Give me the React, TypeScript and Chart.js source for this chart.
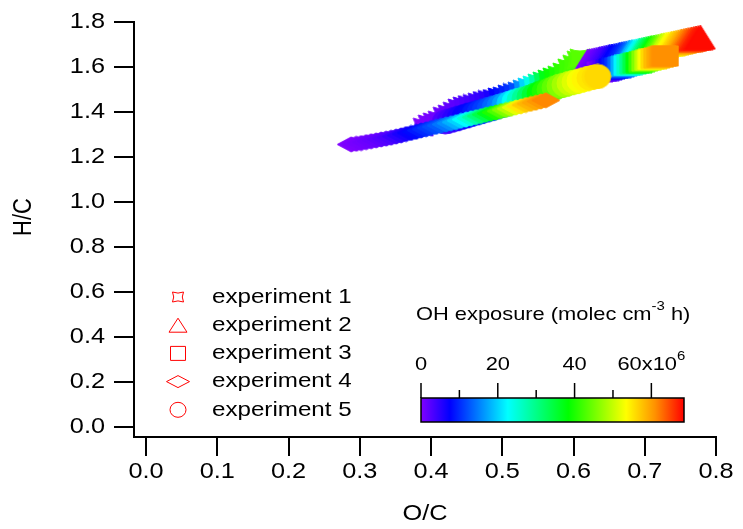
import React, { useEffect, useRef } from "react";
import { Chart, registerables } from "chart.js";

Chart.register(...registerables);

const W = 743;
const H = 529;
const FONT = '"Liberation Sans", Arial, Helvetica, sans-serif';
const STRETCH = 1.15;

// ---------- axis ticks ----------
const X_TICKS = [0, 0.1, 0.2, 0.3, 0.4, 0.5, 0.6, 0.7, 0.8];
const X_TICK_LABELS = ["0.0", "0.1", "0.2", "0.3", "0.4", "0.5", "0.6", "0.7", "0.8"];
const Y_TICKS = [0, 0.2, 0.4, 0.6, 0.8, 1.0, 1.2, 1.4, 1.6, 1.8];
const Y_TICK_LABELS = ["0.0", "0.2", "0.4", "0.6", "0.8", "1.0", "1.2", "1.4", "1.6", "1.8"];
const X_TITLE = "O/C";
const Y_TITLE = "H/C";

const EXPERIMENTS = ["experiment 1", "experiment 2", "experiment 3", "experiment 4", "experiment 5"];

// ---------- experiment 1 ----------
const OC_EXP1 = [0.389, 0.396, 0.403, 0.410, 0.417, 0.424, 0.431, 0.438, 0.445, 0.452, 0.459, 0.466, 0.473, 0.480, 0.487, 0.494, 0.501, 0.508, 0.515, 0.522, 0.529, 0.536, 0.543, 0.550, 0.557, 0.564, 0.571, 0.578, 0.585, 0.592, 0.599, 0.605, 0.609];
const HC_EXP1 = [1.333, 1.347, 1.356, 1.364, 1.382, 1.391, 1.404, 1.418, 1.427, 1.433, 1.438, 1.444, 1.451, 1.456, 1.460, 1.467, 1.471, 1.480, 1.487, 1.493, 1.502, 1.511, 1.520, 1.529, 1.538, 1.547, 1.556, 1.564, 1.578, 1.596, 1.613, 1.631, 1.640];
const OH_EXP1 = [0, 0.3, 0.6, 0.9, 1.2, 1.5, 1.8, 2.1, 2.5, 3, 3.5, 4, 4.5, 5, 6, 7.5, 8.5, 9.5, 10.5, 12, 16, 20, 24, 28, 33, 37, 39, 40, 41, 42, 42.5, 43, 43.5];

// ---------- experiment 2 ----------
const OC_EXP2 = [0.620, 0.623, 0.626, 0.629, 0.632, 0.635, 0.637, 0.640, 0.643, 0.646, 0.649, 0.651, 0.654, 0.657, 0.660, 0.663, 0.665, 0.668, 0.671, 0.674, 0.677, 0.679, 0.682, 0.685, 0.688, 0.691, 0.693, 0.696, 0.699, 0.702, 0.705, 0.708, 0.710, 0.713, 0.716, 0.719, 0.722, 0.724, 0.727, 0.730, 0.733, 0.736, 0.738, 0.741, 0.744, 0.747, 0.750, 0.752, 0.755, 0.758, 0.761, 0.764, 0.766, 0.769, 0.772, 0.775, 0.778];
const HC_EXP2 = [1.627, 1.628, 1.630, 1.632, 1.634, 1.636, 1.638, 1.640, 1.642, 1.644, 1.646, 1.648, 1.649, 1.651, 1.653, 1.655, 1.657, 1.659, 1.661, 1.663, 1.665, 1.667, 1.669, 1.670, 1.672, 1.674, 1.676, 1.678, 1.680, 1.682, 1.684, 1.686, 1.687, 1.689, 1.691, 1.693, 1.695, 1.697, 1.699, 1.701, 1.703, 1.704, 1.706, 1.708, 1.710, 1.712, 1.714, 1.716, 1.718, 1.720, 1.722, 1.723, 1.725, 1.727, 1.729, 1.731, 1.733];
const OH_EXP2 = [0, 0.5, 1, 1.5, 2, 2.5, 3, 3.5, 4, 5, 5.5, 6.5, 7.5, 8, 9, 9.5, 10, 11, 12.5, 14, 16, 18, 20, 22, 24, 26, 28.5, 31, 33, 35, 37, 39, 41, 42.5, 44, 46, 48, 49.5, 51, 53, 54, 55, 56, 57, 58, 59, 60, 61, 62, 63, 64, 65, 65.5, 66.5, 67, 67.5, 68];

// ---------- experiment 3 ----------
const OC_EXP3 = [0.637, 0.642, 0.646, 0.650, 0.654, 0.658, 0.663, 0.667, 0.671, 0.675, 0.679, 0.684, 0.688, 0.692, 0.696, 0.700, 0.705, 0.709, 0.713, 0.717, 0.722, 0.726, 0.729];
const HC_EXP3 = [1.578, 1.581, 1.584, 1.588, 1.591, 1.594, 1.597, 1.601, 1.604, 1.607, 1.611, 1.614, 1.617, 1.620, 1.624, 1.627, 1.630, 1.634, 1.637, 1.640, 1.643, 1.647, 1.649];
const OH_EXP3 = [0, 1.5, 3, 5, 7, 9, 11, 14, 18, 22, 26, 30, 34, 38, 42, 46, 50, 53, 56, 58, 59.5, 60.5, 61];

// ---------- experiment 4 ----------
const OC_EXP4 = [0.288, 0.295, 0.302, 0.309, 0.316, 0.323, 0.330, 0.337, 0.344, 0.351, 0.358, 0.365, 0.372, 0.379, 0.386, 0.393, 0.400, 0.407, 0.414, 0.421, 0.428, 0.435, 0.442, 0.449, 0.456, 0.463, 0.470, 0.477, 0.484, 0.491, 0.498, 0.505, 0.512, 0.519, 0.526, 0.533, 0.540, 0.547, 0.554, 0.561];
const HC_EXP4 = [1.256, 1.259, 1.262, 1.266, 1.270, 1.274, 1.278, 1.282, 1.286, 1.291, 1.296, 1.302, 1.307, 1.312, 1.318, 1.323, 1.329, 1.334, 1.339, 1.345, 1.350, 1.355, 1.361, 1.366, 1.372, 1.377, 1.382, 1.388, 1.393, 1.398, 1.404, 1.409, 1.414, 1.420, 1.425, 1.431, 1.436, 1.441, 1.447, 1.452];
const OH_EXP4 = [0, 0.3, 0.6, 0.9, 1.2, 1.5, 2, 2.5, 3, 4, 5, 6, 7, 8, 9, 10, 11, 12, 13, 14.5, 16, 18, 20, 22.5, 25, 28, 31, 34, 37, 40, 43, 46, 49, 52, 55, 57, 58.5, 59.5, 60.5, 61.5];

// ---------- experiment 5 ----------
const OC_EXP5 = [0.420, 0.427, 0.434, 0.441, 0.448, 0.455, 0.462, 0.469, 0.476, 0.483, 0.490, 0.497, 0.504, 0.511, 0.518, 0.525, 0.532, 0.539, 0.546, 0.553, 0.560, 0.567, 0.574, 0.581, 0.588, 0.595, 0.602, 0.609, 0.616, 0.623, 0.630, 0.634];
const HC_EXP5 = [1.356, 1.362, 1.368, 1.375, 1.381, 1.388, 1.394, 1.400, 1.407, 1.413, 1.420, 1.427, 1.433, 1.440, 1.447, 1.453, 1.460, 1.467, 1.475, 1.483, 1.491, 1.499, 1.508, 1.516, 1.521, 1.528, 1.533, 1.539, 1.545, 1.551, 1.556, 1.558];
const OH_EXP5 = [3, 4, 5, 6, 7, 8, 9, 10, 11, 12, 13.5, 15, 17, 20, 23, 26, 29, 32, 35, 38, 40, 42, 44, 46, 48, 50, 51.5, 53, 54, 55, 55.5, 56];

// ---------- colour scale ----------
const OH_MIN = 0;
const OH_MAX = 68.5;
const CBAR_TITLE = "OH exposure (molec cm";
const CBAR_TITLE_SUP = "-3";
const CBAR_TITLE_END = " h)";
const CBAR_TICKS = [0, 20, 40, 60];
const CBAR_TICK_LABELS = ["0", "20", "40", "60x10"];
const CBAR_LAST_SUP = "6";
const CBAR_MINOR = [10, 30, 50];
const CMAP_POS = [0, 0.11, 0.33, 0.56, 0.78, 0.89, 1];
const CMAP_RGB = [
  [128, 0, 255],
  [0, 0, 255],
  [0, 255, 255],
  [0, 255, 0],
  [255, 255, 0],
  [255, 145, 0],
  [255, 0, 0],
];

function colorFor(v: number): string {
  let t = (v - OH_MIN) / (OH_MAX - OH_MIN);
  t = Math.max(0, Math.min(1, t));
  for (let i = 0; i < CMAP_POS.length - 1; i++) {
    if (t <= CMAP_POS[i + 1]) {
      const f = (t - CMAP_POS[i]) / (CMAP_POS[i + 1] - CMAP_POS[i]);
      const a = CMAP_RGB[i];
      const b = CMAP_RGB[i + 1];
      const c = a.map((av, k) => Math.round(av + (b[k] - av) * f));
      return `rgb(${c[0]},${c[1]},${c[2]})`;
    }
  }
  const l = CMAP_RGB[CMAP_RGB.length - 1];
  return `rgb(${l[0]},${l[1]},${l[2]})`;
}

type Shape = "qsquare" | "triangle" | "square" | "diamond" | "circle";

function shapePath(g: CanvasRenderingContext2D, shape: Shape, w: number, h: number) {
  const hw = w / 2;
  const hh = h / 2;
  g.beginPath();
  if (shape === "qsquare") {
    const kx = w * 0.22;
    const ky = h * 0.22;
    g.moveTo(-hw, -hh);
    g.quadraticCurveTo(0, -hh + ky, hw, -hh);
    g.quadraticCurveTo(hw - kx, 0, hw, hh);
    g.quadraticCurveTo(0, hh - ky, -hw, hh);
    g.quadraticCurveTo(-hw + kx, 0, -hw, -hh);
  } else if (shape === "triangle") {
    g.moveTo(0, -hh);
    g.lineTo(hw, hh);
    g.lineTo(-hw, hh);
  } else if (shape === "square") {
    g.rect(-hw, -hh, w, h);
  } else if (shape === "diamond") {
    g.moveTo(0, -hh);
    g.lineTo(hw, 0);
    g.lineTo(0, hh);
    g.lineTo(-hw, 0);
  } else {
    g.ellipse(0, 0, hw, hh, 0, 0, Math.PI * 2);
  }
  g.closePath();
}

const markerCache = new Map<string, HTMLCanvasElement>();
function markerImage(shape: Shape, w: number, h: number, color: string): HTMLCanvasElement {
  const key = `${shape}|${w}|${h}|${color}`;
  let c = markerCache.get(key);
  if (!c) {
    c = document.createElement("canvas");
    c.width = w + 2;
    c.height = h + 2;
    const g = c.getContext("2d")!;
    g.translate(c.width / 2, c.height / 2);
    shapePath(g, shape, w, h);
    g.fillStyle = color;
    g.fill();
    g.lineWidth = 1;
    g.strokeStyle = color;
    g.stroke();
    markerCache.set(key, c);
  }
  return c;
}

const SERIES: { name: string; oc: number[]; hc: number[]; oh: number[]; shape: Shape; w: number; h: number; order: number; lw: number; lh: number }[] = [
  { name: EXPERIMENTS[0], oc: OC_EXP1, hc: HC_EXP1, oh: OH_EXP1, shape: "qsquare", w: 20, h: 18, order: 4, lw: 11, lh: 10 },
  { name: EXPERIMENTS[1], oc: OC_EXP2, hc: HC_EXP2, oh: OH_EXP2, shape: "triangle", w: 30, h: 24, order: 3, lw: 18, lh: 14 },
  { name: EXPERIMENTS[2], oc: OC_EXP3, hc: HC_EXP3, oh: OH_EXP3, shape: "square", w: 26, h: 20, order: 2, lw: 15, lh: 14 },
  { name: EXPERIMENTS[3], oc: OC_EXP4, hc: HC_EXP4, oh: OH_EXP4, shape: "diamond", w: 28, h: 15, order: 0, lw: 23, lh: 12 },
  { name: EXPERIMENTS[4], oc: OC_EXP5, hc: HC_EXP5, oh: OH_EXP5, shape: "circle", w: 26, h: 24, order: 1, lw: 16, lh: 15 },
];

function text(
  ctx: CanvasRenderingContext2D,
  s: string,
  x: number,
  y: number,
  size: number,
  align: CanvasTextAlign = "center",
  rotate = false
) {
  ctx.save();
  ctx.translate(x, y);
  ctx.scale(STRETCH, 1);
  if (rotate) ctx.rotate(-Math.PI / 2);
  ctx.font = `${size}px ${FONT}`;
  ctx.textAlign = align;
  ctx.textBaseline = "middle";
  ctx.fillStyle = "#000";
  ctx.fillText(s, 0, 0);
  ctx.restore();
}

function textWidth(ctx: CanvasRenderingContext2D, s: string, size: number) {
  ctx.save();
  ctx.font = `${size}px ${FONT}`;
  const w = ctx.measureText(s).width * STRETCH;
  ctx.restore();
  return w;
}

const overlay = {
  id: "overlay",
  afterDraw(chart: any) {
    const ctx: CanvasRenderingContext2D = chart.ctx;
    const xs = chart.scales.x;
    const ys = chart.scales.y;

    Y_TICKS.forEach((v, i) => text(ctx, Y_TICK_LABELS[i], 105, ys.getPixelForValue(v), 22, "right"));
    X_TICKS.forEach((v, i) => text(ctx, X_TICK_LABELS[i], xs.getPixelForValue(v), 472, 22, "center"));

    text(ctx, X_TITLE, (xs.left + xs.right) / 2, 514, 22, "center");
    text(ctx, Y_TITLE, 24, 217, 22, "center", true);

    const legX = 178;
    const legTextX = 212;
    const legY0 = 297;
    const legDy = 28.2;
    SERIES.forEach((s, i) => {
      const y = legY0 + i * legDy;
      ctx.save();
      ctx.translate(legX, y);
      shapePath(ctx, s.shape, s.lw, s.lh);
      ctx.strokeStyle = "#ff0000";
      ctx.lineWidth = 1;
      ctx.stroke();
      ctx.restore();
      text(ctx, s.name, legTextX, y, 21, "left");
    });

    const bx0 = 421;
    const bx1 = 684;
    const by0 = 398;
    const by1 = 422;
    const grad = ctx.createLinearGradient(bx0, 0, bx1, 0);
    CMAP_POS.forEach((p, i) => {
      const c = CMAP_RGB[i];
      grad.addColorStop(p, `rgb(${c[0]},${c[1]},${c[2]})`);
    });
    ctx.save();
    ctx.fillStyle = grad;
    ctx.fillRect(bx0, by0, bx1 - bx0, by1 - by0);
    ctx.strokeStyle = "#000";
    ctx.lineWidth = 1.5;
    ctx.strokeRect(bx0, by0, bx1 - bx0, by1 - by0);
    const px = (v: number) => bx0 + ((v - OH_MIN) / (OH_MAX - OH_MIN)) * (bx1 - bx0);
    ctx.beginPath();
    CBAR_TICKS.forEach((v) => {
      ctx.moveTo(px(v), by0);
      ctx.lineTo(px(v), by0 - 15);
    });
    CBAR_MINOR.forEach((v) => {
      ctx.moveTo(px(v), by0);
      ctx.lineTo(px(v), by0 - 8);
    });
    ctx.stroke();
    ctx.restore();

    const labY = 365;
    CBAR_TICKS.forEach((v, i) => {
      const lab = CBAR_TICK_LABELS[i];
      if (i === CBAR_TICKS.length - 1) {
        const mw = textWidth(ctx, lab, 19);
        const sw = textWidth(ctx, CBAR_LAST_SUP, 13);
        const start = px(v) - (mw + sw) / 2;
        text(ctx, lab, start, labY, 19, "left");
        text(ctx, CBAR_LAST_SUP, start + mw, labY - 9, 13, "left");
      } else {
        text(ctx, lab, px(v), labY, 19, "center");
      }
    });

    const tx = 416;
    const ty = 315;
    const w1 = textWidth(ctx, CBAR_TITLE, 19);
    text(ctx, CBAR_TITLE, tx, ty, 19, "left");
    const w2 = textWidth(ctx, CBAR_TITLE_SUP, 13);
    text(ctx, CBAR_TITLE_SUP, tx + w1, ty - 9, 13, "left");
    text(ctx, CBAR_TITLE_END, tx + w1 + w2, ty, 19, "left");
  },
};

export default function App() {
  const ref = useRef<HTMLCanvasElement>(null);
  useEffect(() => {
    const canvas = ref.current!;
    const axisCommon = {
      type: "linear" as const,
      grid: {
        display: true,
        drawOnChartArea: false,
        drawTicks: true,
        color: "#000",
        lineWidth: 2,
        tickWidth: 2,
        tickColor: "#000",
      },
      border: { display: true, color: "#000", width: 2 },
      ticks: { display: false },
      title: { display: false },
    };
    const chart = new Chart(canvas, {
      type: "scatter",
      data: {
        datasets: SERIES.map((s) => ({
          label: s.name,
          data: s.oc.map((x, i) => ({ x, y: s.hc[i] })),
          order: s.order,
          pointRadius: 12,
          pointStyle: (c: any) =>
            markerImage(s.shape, s.w, s.h, colorFor(s.oh[c.dataIndex] ?? 0)),
          showLine: false,
        })),
      },
      options: {
        responsive: false,
        animation: false,
        devicePixelRatio: 1,
        events: [],
        layout: { padding: { left: 0, right: 27, top: 22, bottom: 0 } },
        plugins: {
          legend: { display: false },
          tooltip: { enabled: false },
          title: { display: false },
        },
        scales: {
          x: {
            ...axisCommon,
            position: "bottom",
            min: -0.017,
            max: 0.8,
            grid: { ...axisCommon.grid, tickLength: 19 },
            afterBuildTicks: (s: any) => {
              s.ticks = X_TICKS.map((v) => ({ value: v }));
            },
            afterFit: (s: any) => {
              s.height = H - 437;
            },
          },
          y: {
            ...axisCommon,
            position: "left",
            min: -0.044,
            max: 1.8,
            grid: { ...axisCommon.grid, tickLength: 20 },
            afterBuildTicks: (s: any) => {
              s.ticks = Y_TICKS.map((v) => ({ value: v }));
            },
            afterFit: (s: any) => {
              s.width = 134;
            },
          },
        },
      } as any,
      plugins: [overlay],
    });
    return () => chart.destroy();
  }, []);
  return (
    <div style={{ position: "fixed", left: 0, top: 0, width: W, height: H, background: "#fff" }}>
      <canvas ref={ref} width={W} height={H} style={{ display: "block", width: W, height: H }} />
    </div>
  );
}
